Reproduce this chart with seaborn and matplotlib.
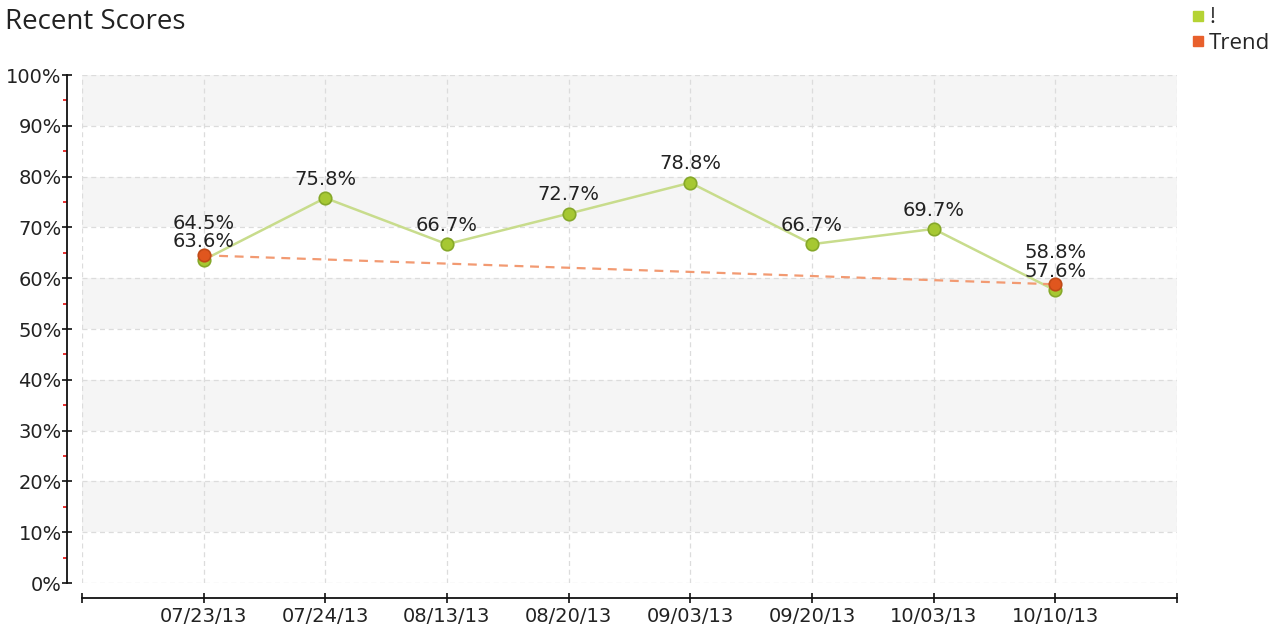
import pandas as pd
import numpy as np
import matplotlib
matplotlib.use("Agg")
import matplotlib.pyplot as plt
import seaborn as sns
from matplotlib.lines import Line2D

# data
dates = ["07/23/13", "07/24/13", "08/13/13", "08/20/13", "09/03/13", "09/20/13", "10/03/13", "10/10/13"]
scores = [63.6, 75.8, 66.7, 72.7, 78.8, 66.7, 69.7, 57.6]
trend_dates = ["07/23/13", "10/10/13"]
trend_values = [64.5, 58.8]

df = pd.DataFrame({"date": dates, "score": scores})
df["pos"] = range(len(dates))
trend_df = pd.DataFrame({"date": trend_dates, "trend": trend_values})
trend_df["pos"] = [dates.index(d) for d in trend_dates]

sns.set_style("white")
plt.rcParams["font.family"] = ["DejaVu Sans"]

fig = plt.figure(figsize=(12.8, 6.34), dpi=100)
ax = fig.add_axes([0.064, 0.0804, 0.8555, 0.8013])

# alternating bands
for lo in range(10, 100, 20):
    ax.axhspan(lo, lo + 10, color="#f5f5f5", zorder=0, lw=0)
# dashed grid
for y in range(0, 101, 10):
    ax.axhline(y, color="#dcdcdc", ls=(0, (4, 3)), lw=0.9, zorder=0.5)
for x in range(-1, len(dates) + 1):
    ax.axvline(x, color="#dcdcdc", ls=(0, (4, 3)), lw=0.9, zorder=0.5)

green_line = "#c8dc8c"
green_face = "#a6c832"
green_edge = "#86a82a"
orange_line = "#f29a72"
orange_face = "#e0561e"

sns.lineplot(data=df, x="pos", y="score", ax=ax, color=green_line, lw=1.8,
             marker="o", markersize=9, markerfacecolor=green_face,
             markeredgecolor=green_edge, markeredgewidth=1.2, zorder=3)
sns.lineplot(data=trend_df, x="pos", y="trend", ax=ax, color=orange_line, lw=1.6,
             ls=(0, (4, 3)), marker="o", markersize=9, markerfacecolor=orange_face,
             markeredgecolor="#c04a18", markeredgewidth=1.2, zorder=4)

for x, y in zip(df["pos"], df["score"]):
    ax.annotate(f"{y:.1f}%", (x, y), xytext=(0, 13.5), textcoords="offset points",
                ha="center", va="center", fontsize=14, color="#222222", zorder=5)
# trend labels lifted a little so they clear the score labels
for x, y in zip(trend_df["pos"], trend_df["trend"]):
    ax.annotate(f"{y:.1f}%", (x, y), xytext=(0, 23), textcoords="offset points",
                ha="center", va="center", fontsize=14, color="#222222", zorder=5)

ax.set_xlim(-1, len(dates))
ax.set_ylim(0, 100)
ax.set_xticks(range(len(dates)))
ax.set_xticklabels(dates)
ax.set_xticks([-1, len(dates)], minor=True)
ax.set_yticks(range(0, 101, 10))
ax.set_yticklabels([f"{v}%" for v in range(0, 101, 10)])
ax.set_yticks(range(5, 100, 10), minor=True)
ax.set_xlabel("")
ax.set_ylabel("")

for s in ["top", "right"]:
    ax.spines[s].set_visible(False)
for s in ["left", "bottom"]:
    ax.spines[s].set_position(("outward", 11))
    ax.spines[s].set_color("#111111")
    ax.spines[s].set_linewidth(1.3)

ax.tick_params(axis="both", which="major", direction="inout", length=7, width=1.2,
               color="#111111", labelsize=14, labelcolor="#222222", left=True, bottom=True)
ax.tick_params(axis="y", which="major", pad=0)
ax.tick_params(axis="x", which="major", pad=3)
ax.tick_params(axis="y", which="minor", direction="out", length=3, width=1.4,
               color="#e83030", left=True)
ax.tick_params(axis="x", which="minor", direction="inout", length=7, width=1.2,
               color="#111111", bottom=True)

fig.text(0.004, 0.966, "Recent Scores", fontsize=20, va="center", ha="left",
         color="#222222", family=["Open Sans", "DejaVu Sans"])

handles = [Line2D([], [], ls="", marker="s", markersize=7, color="#b5d334", label="!"),
           Line2D([], [], ls="", marker="s", markersize=7, color="#e8602c", label="Trend")]
fig.legend(handles=handles, loc="upper right", bbox_to_anchor=(1.008, 1.02), frameon=False,
           prop={"family": ["Open Sans", "DejaVu Sans"], "size": 16},
           handletextpad=0.1, labelspacing=0.2, handlelength=0.8)

fig.savefig("out.png", dpi=100)
